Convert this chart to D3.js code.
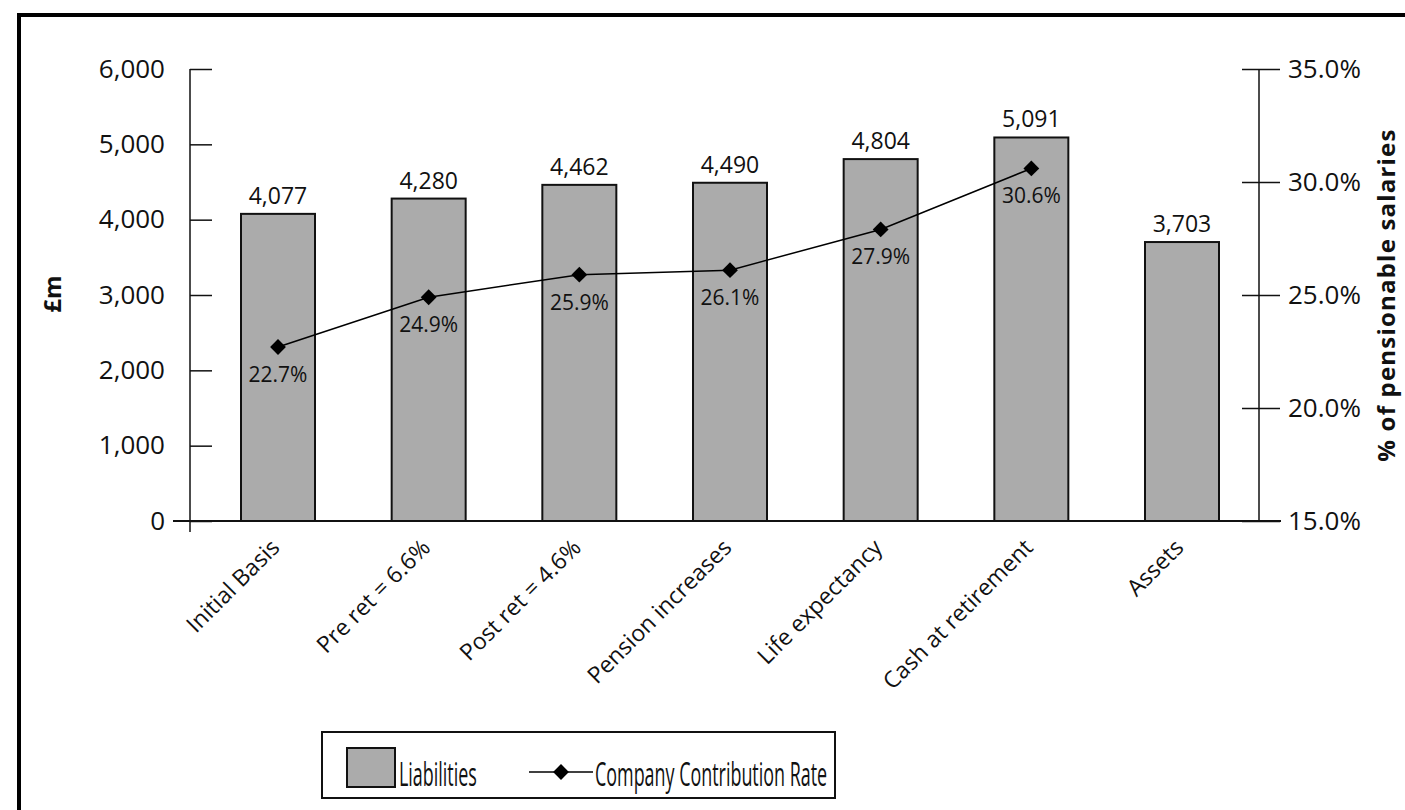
<!DOCTYPE html>
<html>
<head>
<meta charset="utf-8">
<script src="https://cdn.jsdelivr.net/npm/d3@7"></script>
<style>
  body { margin: 0; background: #fff; }
  text { font-family: 'Open Sans', 'Noto Sans', sans-serif; fill: #111; }
</style>
</head>
<body>
<div id="chart"></div>
<script>
var categories = ['Initial Basis', 'Pre ret = 6.6%', 'Post ret = 4.6%', 'Pension increases',
  'Life expectancy', 'Cash at retirement', 'Assets']
var liabilities = [4077, 4280, 4462, 4490, 4804, 5091, 3703]
var contribution = [22.7, 24.9, 25.9, 26.1, 27.9, 30.6]
var leftTicks = [0, 1000, 2000, 3000, 4000, 5000, 6000]
var rightTicks = [15, 20, 25, 30, 35]

var width = 1405
var height = 810
var plot = { top: 69, bottom: 521, left: 190, right: 1259 }

var svg = d3.select('#chart')
  .append('svg')
  .attr('width', width)
  .attr('height', height)

// outer frame, cropped on the right and bottom
svg.append('rect')
  .attr('x', 19)
  .attr('y', 15)
  .attr('width', 1500)
  .attr('height', 1000)
  .attr('fill', 'none')
  .attr('stroke', '#000')
  .attr('stroke-width', 4)

var x = d3.scalePoint()
  .domain(categories)
  .range([278, 1182])

var y = d3.scaleLinear()
  .domain([0, 6000])
  .range([plot.bottom, plot.top])

var y2 = d3.scaleLinear()
  .domain([15, 35])
  .range([plot.bottom, plot.top])

var barWidth = 74

// left axis
var leftAxis = svg.append('g')
  .attr('transform', 'translate(' + plot.left + ',0)')
  .call(d3.axisLeft(y).tickValues(leftTicks).tickFormat(d3.format(',')).tickSize(17).tickPadding(8))
leftAxis.select('.domain').remove()
leftAxis.selectAll('.tick line').attr('x2', 22).attr('stroke', '#111').attr('stroke-width', 1.5)
leftAxis.selectAll('.tick text').attr('font-size', 26).attr('fill', '#111')
  .attr('font-family', "'Open Sans', sans-serif")
svg.append('line')
  .attr('x1', plot.left).attr('x2', plot.left)
  .attr('y1', plot.top).attr('y2', plot.bottom + 11)
  .attr('stroke', '#111').attr('stroke-width', 1.5)

// right axis
var rightAxis = svg.append('g')
  .attr('transform', 'translate(' + plot.right + ',0)')
  .call(d3.axisRight(y2).tickValues(rightTicks).tickFormat(d => d3.format('.1f')(d) + '%').tickSize(21).tickPadding(8))
rightAxis.select('.domain').remove()
rightAxis.selectAll('.tick line').attr('x1', -17).attr('stroke', '#111').attr('stroke-width', 1.5)
rightAxis.selectAll('.tick text').attr('font-size', 26).attr('fill', '#111')
  .attr('font-family', "'Open Sans', sans-serif")
svg.append('line')
  .attr('x1', plot.right).attr('x2', plot.right)
  .attr('y1', plot.top).attr('y2', plot.bottom)
  .attr('stroke', '#111').attr('stroke-width', 1.5)

// bars
svg.selectAll('.bar')
  .data(liabilities)
  .enter()
  .append('rect')
  .attr('class', 'bar')
  .attr('x', (d, i) => x(categories[i]) - barWidth / 2)
  .attr('y', d => y(d))
  .attr('width', barWidth)
  .attr('height', d => y(0) - y(d))
  .attr('fill', '#ababab')
  .attr('stroke', '#111')
  .attr('stroke-width', 2)

svg.selectAll('.bar-label')
  .data(liabilities)
  .enter()
  .append('text')
  .attr('x', (d, i) => x(categories[i]))
  .attr('y', d => y(d) - 10)
  .attr('text-anchor', 'middle')
  .attr('font-size', 23)
  .text(d3.format(','))

// baseline
svg.append('line')
  .attr('x1', plot.left - 17).attr('x2', plot.right + 22)
  .attr('y1', y(0)).attr('y2', y(0))
  .attr('stroke', '#111').attr('stroke-width', 2)

// contribution rate line
var line = d3.line()
  .x((d, i) => x(categories[i]))
  .y(d => y2(d))

svg.append('path')
  .datum(contribution)
  .attr('d', line)
  .attr('fill', 'none')
  .attr('stroke', '#000')
  .attr('stroke-width', 1.5)

var diamond = d3.symbol().type(d3.symbolSquare).size(125)

svg.selectAll('.marker')
  .data(contribution)
  .enter()
  .append('path')
  .attr('class', 'marker')
  .attr('d', diamond)
  .attr('transform', (d, i) => 'translate(' + x(categories[i]) + ',' + y2(d) + ') rotate(45)')
  .attr('fill', '#000')

svg.selectAll('.rate-label')
  .data(contribution)
  .enter()
  .append('text')
  .attr('x', (d, i) => x(categories[i]))
  .attr('y', d => y2(d) + 35)
  .attr('text-anchor', 'middle')
  .attr('font-size', 21)
  .text(d => d3.format('.1f')(d) + '%')

// category labels
svg.selectAll('.cat-label')
  .data(categories)
  .enter()
  .append('text')
  .attr('transform', d => 'translate(' + (x(d) + 3) + ',' + (plot.bottom + 28) + ') rotate(-45)')
  .attr('text-anchor', 'end')
  .attr('font-size', 23)
  .text(d => d)

// axis titles
svg.append('text')
  .attr('transform', 'translate(61,294) rotate(-90)')
  .attr('text-anchor', 'middle')
  .attr('font-size', 24)
  .attr('font-weight', 'bold')
  .text('£m')

svg.append('text')
  .attr('transform', 'translate(1395,295) rotate(-90)')
  .attr('text-anchor', 'middle')
  .attr('font-size', 24)
  .attr('font-weight', 'bold')
  .attr('letter-spacing', 1.2)
  .text('% of pensionable salaries')

// legend
var legend = svg.append('g')
legend.append('rect')
  .attr('x', 322).attr('y', 732)
  .attr('width', 513).attr('height', 66)
  .attr('fill', '#fff')
  .attr('stroke', '#111')
  .attr('stroke-width', 2)

legend.append('rect')
  .attr('x', 347).attr('y', 748)
  .attr('width', 48).attr('height', 39)
  .attr('fill', '#ababab')
  .attr('stroke', '#111')
  .attr('stroke-width', 2)

// legend text is condensed in the original
legend.append('text')
  .attr('transform', 'translate(399,786) scale(0.56,1)')
  .attr('font-size', 32)
  .text('Liabilities')

legend.append('line')
  .attr('x1', 529).attr('x2', 593)
  .attr('y1', 772).attr('y2', 772)
  .attr('stroke', '#000').attr('stroke-width', 1.5)

legend.append('path')
  .attr('d', diamond)
  .attr('transform', 'translate(561,772) rotate(45)')
  .attr('fill', '#000')

legend.append('text')
  .attr('transform', 'translate(595,786) scale(0.56,1)')
  .attr('font-size', 32)
  .text('Company Contribution Rate')
</script>
</body>
</html>
